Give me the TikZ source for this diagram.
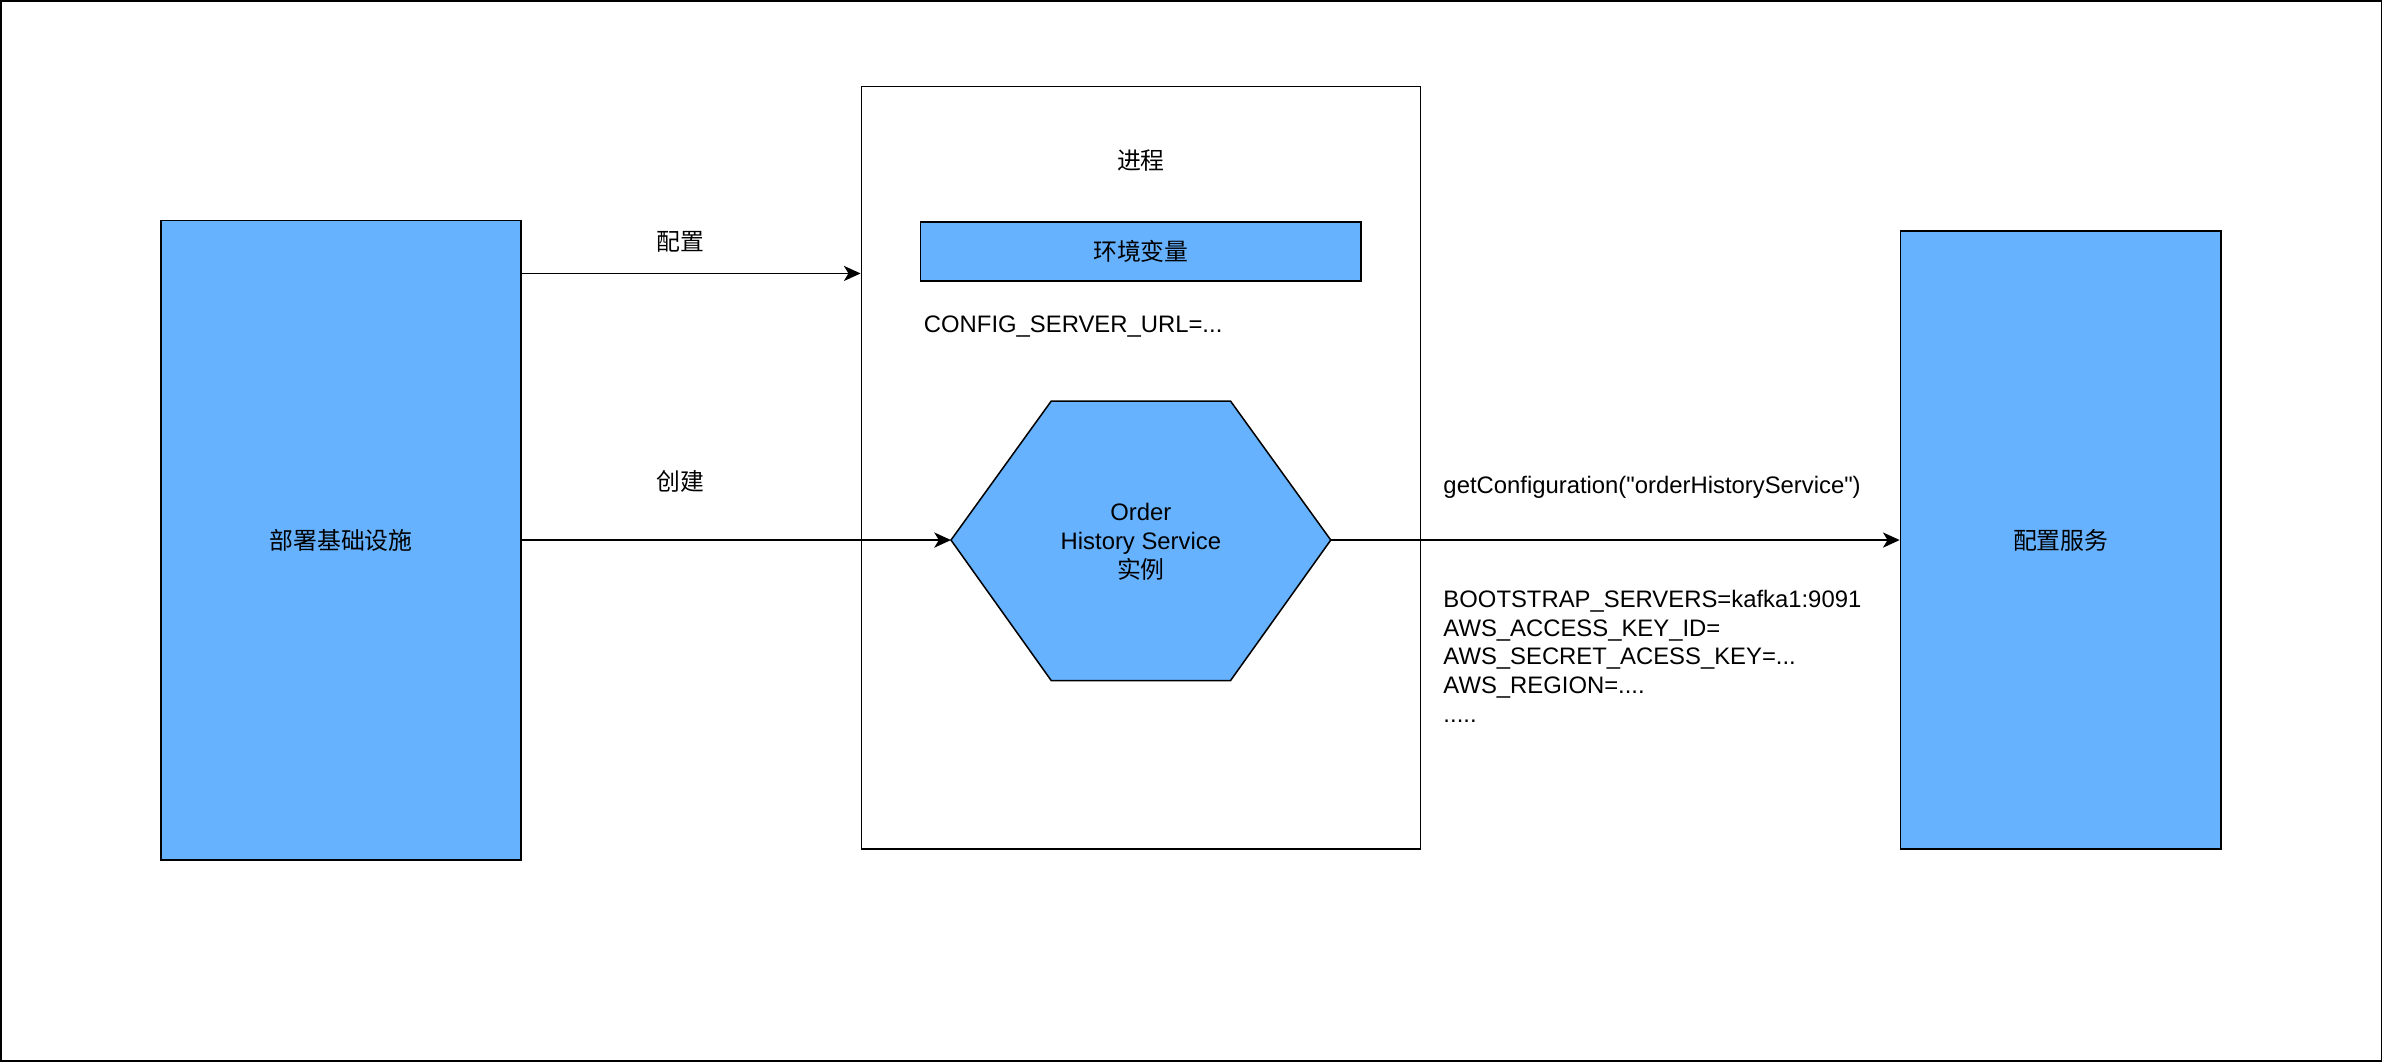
\documentclass[tikz,border=0pt]{standalone}
\usepackage{fontspec}
\setmainfont{Liberation Sans}[Ligatures=TeXOff]
\newfontfamily\cjk{Noto Sans CJK SC}
\definecolor{ServiceFill}{HTML}{66B2FF}
\usetikzlibrary{arrows.meta, positioning}
\tikzset{
    label text/.style={inner sep=0pt, font=\fontsize{15.7}{19}\selectfont},
    cjk text/.style={inner sep=0pt, font=\cjk\fontsize{15.7}{19}\selectfont},
    filled box/.style={draw=black, fill=ServiceFill, line width=1pt, inner sep=0pt},
    plain box/.style={draw=black, line width=1pt, inner sep=0pt},
    flow/.style={line width=1pt, -{Stealth[length=11pt, width=10pt, inset=3pt]}}
}
\begin{document}
\begin{tikzpicture}[x=1pt, y=-1pt]

% Marco exterior.
\useasboundingbox (0,0) rectangle (1568,699);
\draw[line width=1pt, fill=white] (0.5,0.5) rectangle (1567.5,698.5);

% Cajas principales.
\node[filled box, cjk text, minimum width=237pt, minimum height=421pt] (infra) at (224.5,355.5) {部署基础设施};
\node[plain box, minimum width=368pt, minimum height=502pt] (process) at (751,308) {};
\node[cjk text] (processLabel) at (751,106) {进程};
\node[filled box, cjk text, minimum width=290pt, minimum height=39pt] (env) at (751,165.5) {环境变量};
\node[label text, anchor=west] (configUrl) at (608,215) {CONFIG\_SERVER\_URL=...};
\node[filled box, cjk text, minimum width=211pt, minimum height=407pt] (configService) at (1356.5,355.5) {配置服务};

% Hexágono de la instancia.
\coordinate (HexLeft) at (626,355.5);
\coordinate (HexTopLeft) at (692,264);
\coordinate (HexTopRight) at (810,264);
\coordinate (HexRight) at (876,355.5);
\coordinate (HexBottomRight) at (810,448);
\coordinate (HexBottomLeft) at (692,448);
\draw[fill=ServiceFill, line width=1pt]
    (HexLeft) -- (HexTopLeft) -- (HexTopRight) -- (HexRight)
 -- (HexBottomRight) -- (HexBottomLeft) -- cycle;
\node[label text, align=center] (instance) at (751,356.5) {Order\\History Service\\{\cjk 实例}};

% Flechas.
\coordinate (ConfigIn) at (process.west |- 0,180);
\draw[flow] (infra.east |- ConfigIn) -- (ConfigIn);
\draw[flow] (infra.east |- HexLeft) -- (HexLeft);
\draw[flow] (HexRight) -- (configService.west |- HexRight);

% Etiquetas de las flechas.
\node[cjk text] (configLabel) at (448,159) {配置};
\node[cjk text] (createLabel) at (448,317) {创建};
\node[label text, anchor=west] (getConfig) at (950,321) {getConfiguration("orderHistoryService")};
\node[label text, anchor=west, align=left] (settings) at (950,432) {BOOTSTRAP\_SERVERS=kafka1:9091\\AWS\_ACCESS\_KEY\_ID=\\AWS\_SECRET\_ACESS\_KEY=...\\AWS\_REGION=....\\.....};

\end{tikzpicture}
\end{document}
